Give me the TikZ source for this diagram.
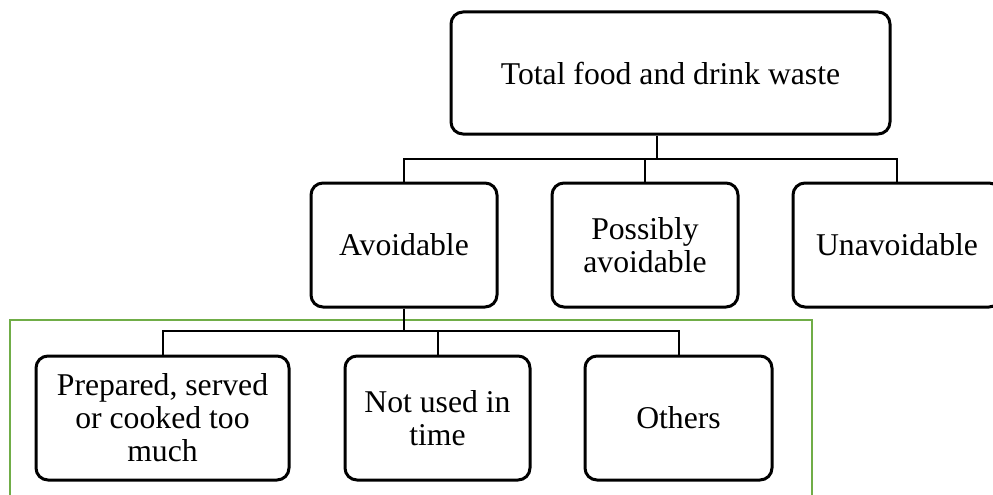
\documentclass[tikz,border=0pt]{standalone}
\usepackage{fontspec}
\setmainfont{Liberation Serif}
\definecolor{groupgreen}{HTML}{70AD47}
\tikzset{
  x=1pt, y=-1pt,
  wastebox/.style={draw=black, line width=3pt, rounded corners=12pt, fill=white,
    align=center, inner sep=0pt, font=\fontsize{31.7}{33}\selectfont},
  link/.style={draw=black, line width=2pt},
}
\begin{document}
\begin{tikzpicture}
\useasboundingbox (0,0) rectangle (993,495);
\clip (0,0) rectangle (993,495);

% group outline around the breakdown of avoidable waste
\draw[groupgreen, line width=2pt] (10,500) -- (10,320) -- (812,320) -- (812,500);

% top level
\node[wastebox, minimum width=439pt, minimum height=122pt] (total) at (670.5,73) {Total food and drink waste};

% second level
\node[wastebox, minimum width=186pt, minimum height=124pt] (avoid) at (404,245) {Avoidable};
\node[wastebox, minimum width=186pt, minimum height=124pt] (poss) at (645,245) {Possibly\\avoidable};
\node[wastebox, minimum width=208pt, minimum height=124pt] (unavoid) at (897,245) {Unavoidable};

% third level
\node[wastebox, minimum width=253pt, minimum height=124pt] (prep) at (162.5,418) {Prepared, served\\or cooked too\\much};
\node[wastebox, minimum width=185pt, minimum height=124pt] (notused) at (437.5,418) {Not used in\\time};
\node[wastebox, minimum width=187pt, minimum height=124pt] (others) at (678.5,418) {Others};

% connectors
\coordinate (tstem) at ([xshift=-13.5pt]total.south);
\draw[link] (tstem) -- (tstem |- 0,159);
\draw[link] (avoid.north) -- (avoid.north |- 0,159) -- (unavoid.north |- 0,159) -- (unavoid.north);
\draw[link] (poss.north) -- (poss.north |- 0,159);

\draw[link] (avoid.south) -- (avoid.south |- 0,331);
\draw[link] (prep.north) -- (prep.north |- 0,331) -- (others.north |- 0,331) -- (others.north);
\draw[link] (notused.north) -- (notused.north |- 0,331);
\end{tikzpicture}
\end{document}
